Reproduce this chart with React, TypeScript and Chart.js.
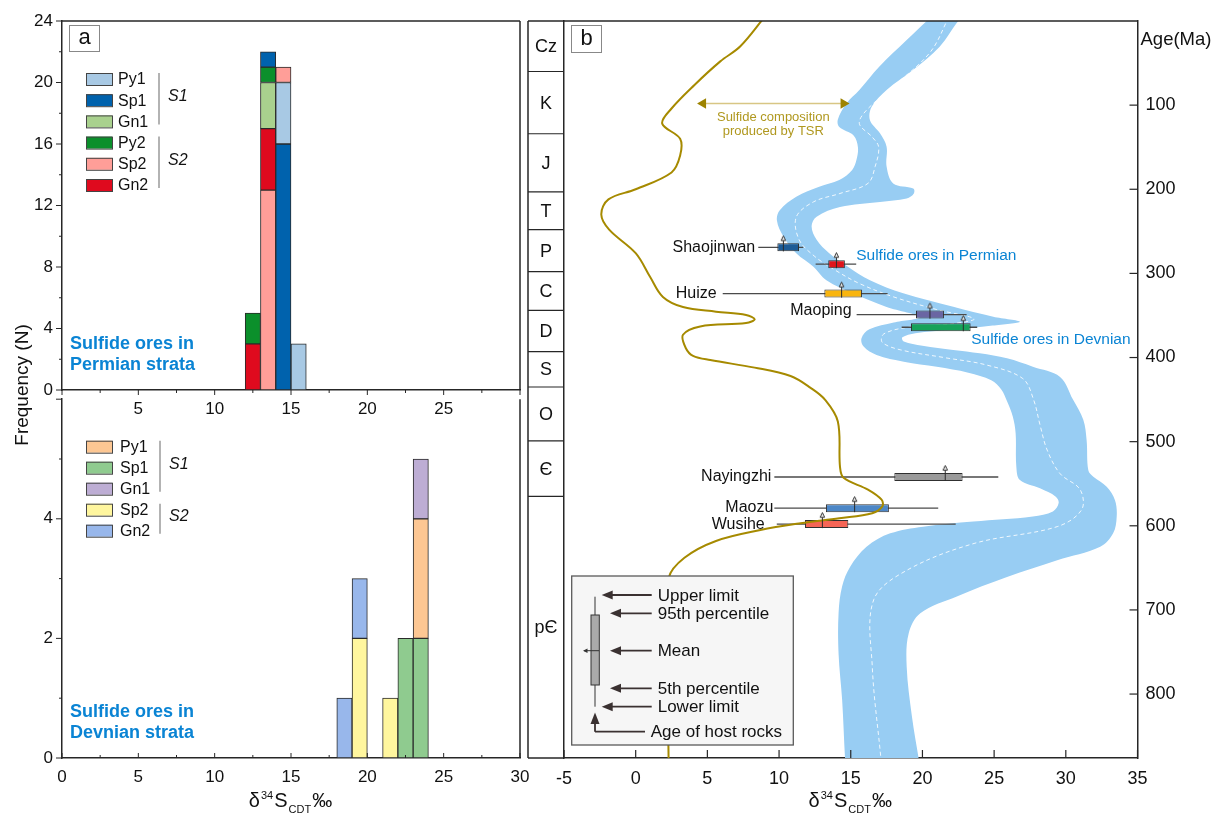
import React, { useEffect, useRef } from 'react';
import { Chart, registerables } from 'chart.js';

Chart.register(...registerables);

// ------------------------------------------------------------------ fonts & colours
const SANS = "'Liberation Sans', Arial, Helvetica, sans-serif";
const AXIS = '#262626';
const INK = '#111111';
const ORE_BLUE = '#0a84d4';

// ------------------------------------------------------------------ panel a : histograms (1‰ bins)
const histXTicks = [0, 5, 10, 15, 20, 25, 30];

const permianBinStarts = [12, 13, 14, 15];
const permianPy1 = [0, 0, 4, 3];
const permianSp1 = [0, 1, 16, 0];
const permianGn1 = [0, 3, 0, 0];
const permianPy2 = [2, 1, 0, 0];
const permianSp2 = [0, 13, 1, 0];
const permianGn2 = [3, 4, 0, 0];
const permianStackOrder = [
  ['Gn2', 'Py2'],
  ['Sp2', 'Gn2', 'Gn1', 'Py2', 'Sp1'],
  ['Sp1', 'Py1', 'Sp2'],
  ['Py1'],
];
const permianYTicks = [0, 4, 8, 12, 16, 20, 24];

const devonianBinStarts = [18, 19, 21, 22, 23];
const devonianPy1 = [0, 0, 0, 0, 2];
const devonianSp1 = [0, 0, 0, 2, 2];
const devonianGn1 = [0, 0, 0, 0, 1];
const devonianSp2 = [0, 2, 1, 0, 0];
const devonianGn2 = [1, 1, 0, 0, 0];
const devonianStackOrder = [['Gn2'], ['Sp2', 'Gn2'], ['Sp2'], ['Sp1'], ['Sp1', 'Py1', 'Gn1']];
const devonianYTicks = [0, 2, 4];

const permianSeries = [
  { name: 'Py1', counts: permianPy1, color: '#a8c9e4' },
  { name: 'Sp1', counts: permianSp1, color: '#0062ad' },
  { name: 'Gn1', counts: permianGn1, color: '#a9d18e' },
  { name: 'Py2', counts: permianPy2, color: '#0b8f2b' },
  { name: 'Sp2', counts: permianSp2, color: '#ff9e98' },
  { name: 'Gn2', counts: permianGn2, color: '#df0a1e' },
];
const devonianSeries = [
  { name: 'Py1', counts: devonianPy1, color: '#fdc793' },
  { name: 'Sp1', counts: devonianSp1, color: '#8fcb8f' },
  { name: 'Gn1', counts: devonianGn1, color: '#bdadd4' },
  { name: 'Sp2', counts: devonianSp2, color: '#fff69e' },
  { name: 'Gn2', counts: devonianGn2, color: '#98b7eb' },
];

// ------------------------------------------------------------------ panel b : age vs δ34S
const deltaTicks = [-5, 0, 5, 10, 15, 20, 25, 30, 35];
const ageTicks = [100, 200, 300, 400, 500, 600, 700, 800];
const periodNames = ['Cz', 'K', 'J', 'T', 'P', 'C', 'D', 'S', 'O', 'Є', 'pЄ'];
const periodBoundaries = [0, 60, 134, 203, 248, 298, 344, 393, 435, 499, 565, 876];

// seawater sulfate band: west (low δ34S) and east (high δ34S) edges, plus dashed centre
const seawaterWestD34S = [20.6, 20.3, 18.9, 17.0, 15.6, 14.7, 14.1, 14.2, 15.2, 15.5, 15.4, 15.1, 14.2, 12.8, 11.2, 10.05, 9.85, 10.3, 11.2, 12.4, 13.3, 15.2, 17.5, 19.8, 18.0, 16.3, 15.75, 15.9, 16.8, 18.7, 21.0, 23.2, 24.8, 25.5, 25.9, 26.3, 26.5, 26.55, 26.8, 28.2, 29.3, 29.5, 29.1, 27.7, 23.55, 20.05, 17.75, 16.1, 14.95, 14.4, 14.15, 14.15, 14.4, 14.6, 14.65];
const seawaterWestAge = [-5, 0, 22.6, 54, 82, 98, 117, 126, 136, 150, 165, 177, 189, 197, 209, 225, 237, 256, 276, 292, 308, 324, 340, 352, 358.5, 366.5, 377, 387, 397, 405, 411, 418, 427, 438, 452, 470, 490, 530, 545.6, 555.5, 565.4, 573, 583, 589, 595, 601, 609, 625, 649, 672, 704, 752, 807, 876, 885];
const seawaterEastD34S = [22.9, 22.5, 21.2, 19.36, 17.5, 16.46, 16.34, 17.04, 17.5, 17.5, 17.96, 19.36, 19.4, 18.9, 17.04, 14.25, 12.62, 12.27, 12.62, 13.5, 14.8, 16.34, 18.66, 22.15, 24.94, 26.8, 24.9, 22.0, 19.5, 18.6, 18.7, 20.0, 22.15, 24.0, 25.9, 27.7, 29.6, 30.5, 31.22, 31.45, 31.57, 31.92, 32.85, 33.43, 33.55, 33.3, 32.4, 29.4, 25.9, 22.4, 19.85, 19.04, 18.9, 19.27, 19.73, 19.8];
const seawaterEastAge = [-5, 0, 30.5, 58, 82, 102, 118, 133.5, 149.4, 173, 193, 199, 205, 211, 215, 221, 232.6, 244, 260, 276, 292, 308, 323.7, 339.6, 351.4, 357.4, 362, 367, 371, 376, 381, 386, 391, 395, 401, 411, 423, 450, 474, 498, 534, 541.8, 553.6, 569.5, 589, 609, 625, 641, 661, 684, 704, 728, 767, 827, 876, 885];
const seawaterMidD34S = [21.7, 21.7, 20.5, 17.95, 16.1, 15.6, 16.5, 16.95, 16.7, 16.2, 14.25, 12.4, 11.2, 11.4, 12.5, 13.9, 15.6, 18.0, 21.0, 23.6, 22.0, 19.0, 17.3, 17.2, 18.5, 21.5, 24.5, 27.0, 27.75, 28.2, 28.7, 29.6, 31.0, 31.1, 29.4, 23.6, 18.9, 16.6, 16.5, 17.1, 17.15];
const seawaterMidAge = [-5, 0, 38, 78, 106, 122, 138, 150, 173, 193, 205, 215, 233, 260, 280, 296, 312, 328, 343, 354, 360, 364, 372, 382, 391, 400, 409, 425, 450, 480, 510, 538, 557, 581, 601, 621, 653, 688, 767, 876, 885];

// sulfide composition produced by TSR (gold curve)
const tsrD34S = [9.0, 7.3, 5.9, 4.1, 2.5, 1.85, 3.1, 3.1, 2.5, 0, -1.9, -2.4, -1.85, 0, 1.0, 1.9, 3.3, 5.6, 7.7, 8.3, 7.7, 4.5, 3.3, 3.5, 4.0, 5.2, 8.3, 10.8, 12.2, 13.2, 14.1, 14.25, 14.5, 16.2, 17.15, 17.2, 16.5, 14.2, 11.5, 8.7, 5.6, 3.4, 2.3, 2.2, 2.3];
const tsrAge = [-5, 30, 48, 76, 104, 122, 140, 160, 180, 200, 212, 230, 248, 276, 304, 328, 340, 345.5, 349.5, 354.5, 359, 363, 373, 389, 398, 403, 412, 422, 436, 450, 476, 530, 543, 557, 569, 577, 585, 591, 597, 605, 618, 638, 662, 729, 885];
const tsrArrowD34S = [4.7, 14.5];
const tsrArrowAge = 98;

// deposits (box = 5th–95th percentile, whisker = lower–upper limit)
const depositNames = ['Shaojinwan', 'Sulfide ores in Permian', 'Huize', 'Maoping', 'Sulfide ores in Devnian', 'Nayingzhi', 'Maozu', 'Wusihe'];
const depositAge = [269, 289, 324, 349, 364, 542, 579, 598];
const depositLower = [8.55, 12.55, 6.07, 15.41, 18.55, 9.67, 9.67, 9.84];
const depositP5 = [9.88, 13.43, 13.16, 19.55, 19.2, 18.04, 13.27, 11.81];
const depositMean = [10.3, 14.0, 14.36, 20.52, 22.85, 21.59, 15.27, 13.02];
const depositP95 = [11.39, 14.59, 15.78, 21.5, 23.36, 22.8, 17.66, 14.83];
const depositUpper = [11.69, 15.38, 17.57, 23.08, 23.82, 25.29, 21.1, 22.32];
const depositColors = ['#1d5b96', '#e0141c', '#f9b50f', '#6a66a3', '#17a25a', '#9a9a9a', '#4c87c7', '#f56556'];
// label layout: side, horizontal gap, vertical shift (px)
const depositLabelLayout: [string, number, number][] = [
  ['left', 3, 0], ['right', 0, -8], ['left', 6, 0], ['left', 5, -4],
  ['right', -6, 12], ['left', 3, 0], ['left', 1, -1], ['left', 12, 0],
];

// ------------------------------------------------------------------ helpers
function seg(ctx: any, x1: number, y1: number, x2: number, y2: number) {
  ctx.beginPath();
  ctx.moveTo(x1, y1);
  ctx.lineTo(x2, y2);
  ctx.stroke();
}
const toPts = (xs: number[], ys: number[]) => xs.map((x, i) => ({ x, y: ys[i] }));

function buildHistogram(binStarts: number[], series: any[], order: string[][]) {
  const byName: Record<string, number[]> = {};
  series.forEach((s) => (byName[s.name] = s.counts));
  return series.map((s) => {
    const data: any[] = [];
    binStarts.forEach((b, i) => {
      const n = s.counts[i];
      if (!n) return;
      let lo = 0;
      for (const name of order[i]) {
        if (name === s.name) break;
        lo += byName[name][i];
      }
      data.push({ x: b + 0.5, y: [lo, lo + n] });
    });
    return {
      type: 'bar',
      label: s.name,
      data,
      backgroundColor: s.color,
      borderColor: '#2a2a2a',
      borderWidth: 1,
      borderSkipped: false,
      grouped: false,
      barPercentage: 1,
      categoryPercentage: 1,
    };
  });
}

function drawDelta(ctx: any, cx: number, baseline: number, size: number) {
  const parts: [string, number, number][] = [
    ['δ', 1, 0], ['34', 0.55, -0.42], ['S', 1, 0], ['CDT', 0.55, 0.3], ['‰', 1, 0],
  ];
  const widths = parts.map(([t, s]) => {
    ctx.font = `${size * s}px ${SANS}`;
    return ctx.measureText(t).width + 1;
  });
  let x = cx - widths.reduce((a, b) => a + b, 0) / 2;
  ctx.fillStyle = INK;
  ctx.textAlign = 'left';
  ctx.textBaseline = 'alphabetic';
  parts.forEach(([t, s, dy], i) => {
    ctx.font = `${size * s}px ${SANS}`;
    ctx.fillText(t, x, baseline + dy * size);
    x += widths[i];
  });
}

function makePanelAPlugin(o: any) {
  return {
    id: 'panelA',
    afterDraw(chart: any) {
      const { ctx, chartArea: ca } = chart;
      const xs = chart.scales.x;
      const ys = chart.scales.y;
      ctx.save();
      ctx.strokeStyle = AXIS;
      ctx.lineWidth = 1.5;
      seg(ctx, ca.right, ca.top, ca.right, ca.bottom);
      if (o.isTop) seg(ctx, ca.left, ca.top, ca.right, ca.top);
      ctx.lineWidth = 1;
      for (let v = 0; v <= o.yMax + 1e-9; v += o.yMinor) {
        const py = ys.getPixelForValue(v);
        const major = Math.abs(v % o.yMajor) < 1e-6;
        seg(ctx, ca.left - (major ? 6 : 3), py, ca.left, py);
      }
      for (let v = 0; v <= 30; v += 2.5) {
        const px = xs.getPixelForValue(v);
        const len = v % 5 === 0 ? 5 : 3;
        seg(ctx, px, ca.bottom, px, ca.bottom + o.xTickDir * len);
      }
      // legend
      chart.data.datasets.forEach((ds: any, i: number) => {
        const cy = o.legendTop + i * o.legendStep;
        ctx.fillStyle = ds.backgroundColor;
        ctx.fillRect(86, cy - 6, 26, 12);
        ctx.strokeStyle = '#444';
        ctx.lineWidth = 1;
        ctx.strokeRect(86.5, cy - 5.5, 26, 12);
        ctx.fillStyle = INK;
        ctx.font = `16px ${SANS}`;
        ctx.textAlign = 'left';
        ctx.textBaseline = 'middle';
        ctx.fillText(ds.label, o.legendTextX, cy + 1);
      });
      o.groups.forEach(([i0, i1, lab]: [number, number, string]) => {
        const t = o.legendTop + i0 * o.legendStep - 6;
        const b = o.legendTop + i1 * o.legendStep + 3;
        ctx.strokeStyle = '#9a9a9a';
        ctx.lineWidth = 1.5;
        seg(ctx, o.bracketX, t, o.bracketX, b);
        ctx.fillStyle = INK;
        ctx.font = `italic 16px ${SANS}`;
        ctx.textBaseline = 'middle';
        ctx.fillText(lab, o.bracketX + 9, (t + b) / 2 - 2);
      });
      // strata note
      ctx.fillStyle = ORE_BLUE;
      ctx.font = `bold 18px ${SANS}`;
      ctx.textBaseline = 'middle';
      ctx.fillText(o.note[0], 70, o.noteY);
      ctx.fillText(o.note[1], 70, o.noteY + 21);
      if (o.isTop) {
        ctx.fillStyle = '#fff';
        ctx.fillRect(69.5, 25.5, 30, 26);
        ctx.strokeStyle = '#888';
        ctx.lineWidth = 1;
        ctx.strokeRect(69.5, 25.5, 30, 26);
        ctx.fillStyle = INK;
        ctx.font = `22px ${SANS}`;
        ctx.textAlign = 'center';
        ctx.fillText('a', 84.5, 38);
        ctx.save();
        ctx.translate(23, 385);
        ctx.rotate(-Math.PI / 2);
        ctx.font = `19px ${SANS}`;
        ctx.textAlign = 'center';
        ctx.textBaseline = 'middle';
        ctx.fillText('Frequency (N)', 0, 0);
        ctx.restore();
      } else {
        drawDelta(ctx, (ca.left + ca.right) / 2, o.titleBaseline, 20);
      }
      ctx.restore();
    },
  };
}

function histogramConfig(p: any) {
  const tickFont = { family: SANS, size: 17 };
  return {
    type: 'bar',
    data: { datasets: p.datasets },
    options: {
      responsive: false,
      animation: false,
      events: [],
      layout: { padding: { top: p.areaTop, right: 20, bottom: 0, left: 0 } },
      plugins: { legend: { display: false }, tooltip: { enabled: false } },
      scales: {
        x: {
          type: 'linear', min: 0, max: 30, offset: false,
          grid: { display: false, drawTicks: false, offset: false },
          border: { display: true, color: AXIS, width: 1.5 },
          ticks: {
            padding: 9, color: INK, font: tickFont, maxRotation: 0, autoSkip: false,
            callback: (v: number) => (p.hideEnds && (v === 0 || v === 30) ? '' : `${v}`),
          },
          afterBuildTicks: (s: any) => { s.ticks = histXTicks.map((v) => ({ value: v })); },
          afterFit: (s: any) => { s.height = p.canvasH - p.areaBottom; },
        },
        y: {
          type: 'linear', min: 0, max: p.yMax, offset: false,
          grid: { display: false, drawTicks: false },
          border: { display: true, color: AXIS, width: 1.5 },
          ticks: { padding: 9, color: INK, font: tickFont },
          afterBuildTicks: (s: any) => { s.ticks = p.yTicks.map((v: number) => ({ value: v })); },
          afterFit: (s: any) => { s.width = 62; },
        },
      },
    },
    plugins: [p.plugin],
  };
}

function makeHostAgeGlyph() {
  const c = document.createElement('canvas');
  c.width = 11;
  c.height = 36;
  const g = c.getContext('2d') as CanvasRenderingContext2D;
  const cx = 5.5;
  const cy = 18;
  g.strokeStyle = '#2b2b2b';
  g.lineWidth = 1;
  g.beginPath();
  g.moveTo(cx, cy + 4);
  g.lineTo(cx, cy - 7);
  g.stroke();
  g.beginPath();
  g.moveTo(cx, cy - 11.5);
  g.lineTo(cx + 2.2, cy - 6.8);
  g.lineTo(cx - 2.2, cy - 6.8);
  g.closePath();
  g.fillStyle = '#fff';
  g.fill();
  g.stroke();
  return c;
}

function leftArrow(ctx: any, fromX: number, tipX: number, y: number) {
  ctx.lineWidth = 1.8;
  seg(ctx, fromX, y, tipX + 6, y);
  ctx.beginPath();
  ctx.moveTo(tipX, y);
  ctx.lineTo(tipX + 11, y - 4.5);
  ctx.lineTo(tipX + 11, y + 4.5);
  ctx.closePath();
  ctx.fill();
}

const panelBPlugin = {
  id: 'panelB',
  afterDraw(chart: any) {
    const { ctx, chartArea: ca } = chart;
    const xs = chart.scales.x;
    const ys = chart.scales.y;
    const colL = ca.left - 36;
    ctx.save();
    ctx.strokeStyle = AXIS;
    ctx.lineWidth = 1.5;
    seg(ctx, colL, ca.top, ca.right, ca.top);
    seg(ctx, colL, ca.top, colL, ca.bottom);
    seg(ctx, colL, ca.bottom, ca.left, ca.bottom);
    ctx.lineWidth = 1.2;
    periodBoundaries.slice(1, -1).forEach((a) => {
      const py = ys.getPixelForValue(a);
      seg(ctx, colL, py, ca.left, py);
    });
    ctx.fillStyle = INK;
    ctx.font = `18px ${SANS}`;
    ctx.textAlign = 'center';
    ctx.textBaseline = 'middle';
    periodNames.forEach((n, i) => {
      const y0 = ys.getPixelForValue(periodBoundaries[i]);
      const y1 = ys.getPixelForValue(periodBoundaries[i + 1]);
      ctx.fillText(n, (colL + ca.left) / 2, (y0 + y1) / 2 + 1);
    });
    // inward ticks
    ctx.lineWidth = 1.2;
    deltaTicks.forEach((v) => {
      const px = xs.getPixelForValue(v);
      seg(ctx, px, ca.bottom, px, ca.bottom - 8);
    });
    ageTicks.forEach((v) => {
      const py = ys.getPixelForValue(v);
      seg(ctx, ca.right, py, ca.right - 8, py);
    });
    ctx.textAlign = 'left';
    ctx.font = `18.5px ${SANS}`;
    ctx.fillText('Age(Ma)', ca.right + 3, 40);
    // panel tag
    ctx.fillStyle = '#fff';
    ctx.fillRect(46.5, 25.5, 30, 27);
    ctx.strokeStyle = '#888';
    ctx.lineWidth = 1;
    ctx.strokeRect(46.5, 25.5, 30, 27);
    ctx.fillStyle = INK;
    ctx.font = `22px ${SANS}`;
    ctx.textAlign = 'center';
    ctx.fillText('b', 61.5, 38.5);
    // TSR caption
    const arrowMid = (xs.getPixelForValue(tsrArrowD34S[0]) + xs.getPixelForValue(tsrArrowD34S[1])) / 2;
    const arrowY = ys.getPixelForValue(tsrArrowAge);
    ctx.fillStyle = '#b0981f';
    ctx.font = `13px ${SANS}`;
    ctx.fillText('Sulfide composition', arrowMid, arrowY + 14);
    ctx.fillText('produced by TSR', arrowMid, arrowY + 28);
    // deposit labels
    depositNames.forEach((n, i) => {
      const [side, gap, dy] = depositLabelLayout[i];
      const py = ys.getPixelForValue(depositAge[i]) + dy;
      if (side === 'left') {
        ctx.fillStyle = INK;
        ctx.font = `16px ${SANS}`;
        ctx.textAlign = 'right';
        ctx.fillText(n, xs.getPixelForValue(depositLower[i]) - gap, py);
      } else {
        ctx.fillStyle = ORE_BLUE;
        ctx.font = `15.5px ${SANS}`;
        ctx.textAlign = 'left';
        ctx.fillText(n, xs.getPixelForValue(depositUpper[i]) + gap, py);
      }
    });
    // explanation box
    const bx = ca.left + 7.7;
    const by = 576;
    ctx.fillStyle = '#f6f6f6';
    ctx.fillRect(bx, by, 221.6, 169);
    ctx.strokeStyle = '#5a5a5a';
    ctx.lineWidth = 1.3;
    ctx.strokeRect(bx, by, 221.6, 169);
    const vx = bx + 23.3;
    ctx.strokeStyle = '#333';
    ctx.lineWidth = 1;
    seg(ctx, vx, by + 20.7, vx, by + 130.7);
    ctx.fillStyle = '#aaaaaa';
    ctx.fillRect(vx - 4, by + 39, 8.3, 70);
    ctx.strokeRect(vx - 4, by + 39, 8.3, 70);
    seg(ctx, vx - 11, by + 74.7, vx + 4, by + 74.7);
    ctx.fillStyle = '#333';
    ctx.beginPath();
    ctx.moveTo(vx - 12, by + 74.7);
    ctx.lineTo(vx - 7.5, by + 72.5);
    ctx.lineTo(vx - 7.5, by + 76.9);
    ctx.closePath();
    ctx.fill();
    ctx.strokeStyle = '#3a3131';
    ctx.fillStyle = '#3a3131';
    const tx = bx + 86;
    const ax = bx + 80;
    leftArrow(ctx, ax, vx + 6.7, by + 19);
    leftArrow(ctx, ax, vx + 15, by + 37.3);
    leftArrow(ctx, ax, vx + 15, by + 74.7);
    leftArrow(ctx, ax, vx + 15, by + 112.3);
    leftArrow(ctx, ax, vx + 6.7, by + 130.7);
    ctx.lineWidth = 1.8;
    seg(ctx, vx, by + 155.7, vx + 50, by + 155.7);
    seg(ctx, vx, by + 155.7, vx, by + 145);
    ctx.beginPath();
    ctx.moveTo(vx, by + 136.5);
    ctx.lineTo(vx - 4.5, by + 148);
    ctx.lineTo(vx + 4.5, by + 148);
    ctx.closePath();
    ctx.fill();
    ctx.fillStyle = INK;
    ctx.font = `17px ${SANS}`;
    ctx.textAlign = 'left';
    ctx.textBaseline = 'middle';
    ctx.fillText('Upper limit', tx, by + 20);
    ctx.fillText('95th percentile', tx, by + 38.3);
    ctx.fillText('Mean', tx, by + 75.7);
    ctx.fillText('5th percentile', tx, by + 113.3);
    ctx.fillText('Lower limit', tx, by + 131.7);
    ctx.fillText('Age of host rocks', bx + 79, by + 156.7);
    drawDelta(ctx, (ca.left + ca.right) / 2, 807, 20);
    ctx.restore();
  },
};

function panelBConfig() {
  const tickFont = { family: SANS, size: 18 };
  const bandOutline = [
    ...toPts(seawaterWestD34S, seawaterWestAge),
    ...toPts(seawaterEastD34S, seawaterEastAge).reverse(),
  ];
  const glyph = makeHostAgeGlyph();
  return {
    type: 'scatter',
    data: {
      datasets: [
        {
          type: 'line', label: 'Seawater sulfate', data: bandOutline, fill: 'shape',
          backgroundColor: '#98cdf3', borderColor: 'rgba(0,0,0,0)', borderWidth: 0,
          pointRadius: 0, tension: 0.35, order: 10, xAxisID: 'x', yAxisID: 'y',
        },
        {
          type: 'line', label: 'Seawater mean', data: toPts(seawaterMidD34S, seawaterMidAge), fill: false,
          borderColor: 'rgba(255,255,255,0.85)', borderWidth: 1, borderDash: [4, 3],
          pointRadius: 0, tension: 0.35, order: 9, xAxisID: 'x', yAxisID: 'y',
        },
        {
          type: 'line', label: 'TSR shift',
          data: tsrArrowD34S.map((x) => ({ x, y: tsrArrowAge })), fill: false,
          borderColor: '#d8c684', borderWidth: 1.5, pointStyle: 'triangle', pointRadius: 6,
          pointRotation: [270, 90], pointBackgroundColor: '#9d8300', pointBorderColor: '#9d8300',
          pointBorderWidth: 0, order: 8, xAxisID: 'x', yAxisID: 'y',
        },
        {
          type: 'bar', label: 'Range', indexAxis: 'y',
          data: depositAge.map((a, i) => ({ y: a, x: [depositLower[i], depositUpper[i]] })),
          backgroundColor: '#4a4a4a', borderWidth: 0, maxBarThickness: 1.3, grouped: false,
          order: 7, xAxisID: 'x', yAxisID: 'y',
        },
        {
          type: 'bar', label: '5th–95th percentile', indexAxis: 'y',
          data: depositAge.map((a, i) => ({ y: a, x: [depositP5[i], depositP95[i]] })),
          backgroundColor: depositColors, borderColor: '#303030', borderWidth: 1, borderSkipped: false,
          maxBarThickness: 8, grouped: false, order: 6, xAxisID: 'x', yAxisID: 'y',
        },
        {
          type: 'line', label: 'Sulfide produced by TSR', data: toPts(tsrD34S, tsrAge), fill: false,
          borderColor: '#a68a00', borderWidth: 2, pointRadius: 0, tension: 0.35,
          order: 5, xAxisID: 'x', yAxisID: 'y',
        },
        {
          type: 'scatter', label: 'Mean / host age', data: toPts(depositMean, depositAge),
          pointStyle: glyph, pointRadius: 5, order: 4, xAxisID: 'x', yAxisID: 'y',
        },
      ],
    },
    options: {
      responsive: false,
      animation: false,
      events: [],
      layout: { padding: { top: 21, right: 0, bottom: 0, left: 0 } },
      plugins: { legend: { display: false }, tooltip: { enabled: false } },
      scales: {
        x: {
          type: 'linear', position: 'bottom', min: -5, max: 35, offset: false,
          grid: { display: false, drawTicks: false, offset: false },
          border: { display: true, color: AXIS, width: 1.5 },
          ticks: { padding: 10, color: INK, font: tickFont, maxRotation: 0, autoSkip: false },
          afterBuildTicks: (s: any) => { s.ticks = deltaTicks.map((v) => ({ value: v })); },
          afterFit: (s: any) => { s.height = 59; },
        },
        y: {
          type: 'linear', position: 'left', min: 0, max: 876, reverse: true, offset: false,
          grid: { display: false, drawTicks: false, offset: false },
          border: { display: true, color: AXIS, width: 1.5 },
          ticks: { display: false },
          afterFit: (s: any) => { s.width = 39; },
        },
        y2: {
          type: 'linear', axis: 'y', position: 'right', min: 0, max: 876, reverse: true, offset: false,
          grid: { display: false, drawTicks: false },
          border: { display: true, color: AXIS, width: 1.5 },
          ticks: { padding: 8, color: INK, font: tickFont },
          afterBuildTicks: (s: any) => { s.ticks = ageTicks.map((v) => ({ value: v })); },
          afterFit: (s: any) => { s.width = 80.5; },
        },
      },
    },
    plugins: [panelBPlugin],
  };
}

export default function App() {
  const refA1 = useRef<HTMLCanvasElement>(null);
  const refA2 = useRef<HTMLCanvasElement>(null);
  const refB = useRef<HTMLCanvasElement>(null);

  useEffect(() => {
    const charts: Chart[] = [];
    charts.push(
      new Chart(refA1.current as HTMLCanvasElement, histogramConfig({
        datasets: buildHistogram(permianBinStarts, permianSeries, permianStackOrder),
        yMax: 24, yTicks: permianYTicks, canvasH: 460, areaTop: 21, areaBottom: 390, hideEnds: true,
        plugin: makePanelAPlugin({
          isTop: true, yMax: 24, yMinor: 2, yMajor: 4, xTickDir: 1,
          legendTop: 79, legendStep: 21.2, legendTextX: 118, bracketX: 159,
          groups: [[0, 2, 'S1'], [3, 5, 'S2']],
          note: ['Sulfide ores in', 'Permian strata'], noteY: 344,
        }),
      }) as any),
    );
    charts.push(
      new Chart(refA2.current as HTMLCanvasElement, histogramConfig({
        datasets: buildHistogram(devonianBinStarts, devonianSeries, devonianStackOrder),
        yMax: 6, yTicks: devonianYTicks, canvasH: 437, areaTop: 10, areaBottom: 378, hideEnds: false,
        plugin: makePanelAPlugin({
          isTop: false, yMax: 6, yMinor: 1, yMajor: 2, xTickDir: -1,
          legendTop: 66.7, legendStep: 21, legendTextX: 120, bracketX: 160,
          groups: [[0, 2, 'S1'], [3, 4, 'S2']],
          note: ['Sulfide ores in', 'Devnian strata'], noteY: 332, titleBaseline: 427,
        }),
      }) as any),
    );
    charts.push(new Chart(refB.current as HTMLCanvasElement, panelBConfig() as any));
    return () => charts.forEach((c) => c.destroy());
  }, []);

  return (
    <div style={{ position: 'absolute', left: 0, top: 0, width: 1218, height: 817, background: '#fff', overflow: 'hidden' }}>
      <canvas ref={refA1} width={540} height={460} style={{ position: 'absolute', left: 0, top: 0 }} />
      <canvas ref={refA2} width={540} height={437} style={{ position: 'absolute', left: 0, top: 380 }} />
      <canvas ref={refB} width={693} height={817} style={{ position: 'absolute', left: 525, top: 0 }} />
    </div>
  );
}
